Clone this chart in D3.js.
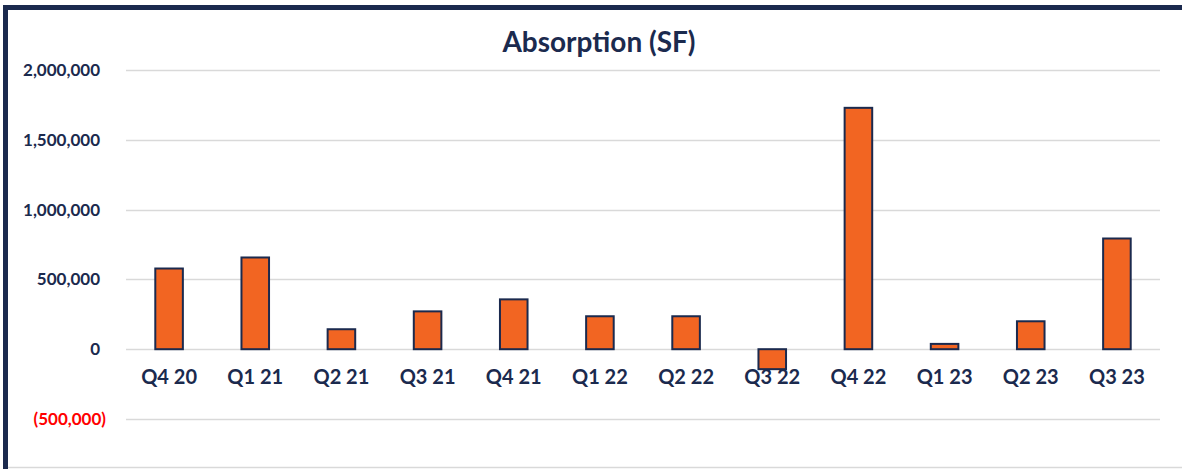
<!DOCTYPE html>
<html>
<head>
<meta charset="utf-8">
<script src="https://cdn.jsdelivr.net/npm/d3@7"></script>
<style>
  html, body { margin: 0; padding: 0; background: #fff; }
  svg { display: block; font-family: Lato, "Open Sans", sans-serif; }
</style>
</head>
<body>
<svg id="chart" width="1182" height="469"></svg>
<script>
const quarters = ["Q4 20", "Q1 21", "Q2 21", "Q3 21", "Q4 21", "Q1 22",
                  "Q2 22", "Q3 22", "Q4 22", "Q1 23", "Q2 23", "Q3 23"];
const absorption = [578000, 657000, 143000, 271000, 357000, 236000,
                    236000, -143000, 1729000, 38000, 200000, 793000];
const yTicks = [-500000, 0, 500000, 1000000, 1500000, 2000000];

const navy = "#1b2a4e";
const svg = d3.select("#chart");

// frame: thick navy top and left, light grey bottom
svg.append("rect").attr("x", 3).attr("y", 5).attr("width", 1179).attr("height", 5).attr("fill", navy);
svg.append("rect").attr("x", 3).attr("y", 5).attr("width", 5).attr("height", 464).attr("fill", navy);
svg.append("line").attr("x1", 8).attr("x2", 1182).attr("y1", 467.5).attr("y2", 467.5)
  .attr("stroke", "#d9d9d9").attr("stroke-width", 1.5);

const x = d3.scaleBand().domain(quarters).range([126, 1160]).paddingInner(0.68).paddingOuter(0.34);
const y = d3.scaleLinear().domain([-500000, 2000000]).range([419, 70]);

// gridlines
svg.append("g").selectAll("line").data(yTicks).join("line")
  .attr("x1", 126).attr("x2", 1160)
  .attr("y1", d => Math.round(y(d)) + 0.5).attr("y2", d => Math.round(y(d)) + 0.5)
  .attr("stroke", "#d9d9d9").attr("stroke-width", 1.5);

// y axis labels (excel style: positives leave room for the closing paren)
const fmt = d3.format(",");
svg.append("g").selectAll("text").data(yTicks).join("text")
  .attr("x", d => d < 0 ? 106 : 100).attr("y", d => y(d) + 6)
  .attr("text-anchor", "end")
  .attr("font-size", 17).attr("font-weight", 700)
  .attr("fill", d => d < 0 ? "#ff0000" : navy)
  .text(d => d < 0 ? "(" + fmt(-d) + ")" : fmt(d));

// bars
svg.append("g").selectAll("rect").data(absorption).join("rect")
  .attr("x", (d, i) => x(quarters[i]))
  .attr("width", x.bandwidth())
  .attr("y", d => y(Math.max(0, d)))
  .attr("height", d => Math.abs(y(d) - y(0)))
  .attr("fill", "#f26522")
  .attr("stroke", navy).attr("stroke-width", 2);

// category labels
svg.append("g").selectAll("text").data(quarters).join("text")
  .attr("x", d => x(d) + x.bandwidth() / 2).attr("y", 384)
  .attr("text-anchor", "middle")
  .attr("font-size", 20).attr("font-weight", 700)
  .attr("fill", navy)
  .text(d => d);

// title
svg.append("text")
  .attr("x", 599).attr("y", 52)
  .attr("text-anchor", "middle")
  .attr("font-size", 28).attr("font-weight", 700)
  .attr("fill", navy)
  .text("Absorption (SF)");
</script>
</body>
</html>
